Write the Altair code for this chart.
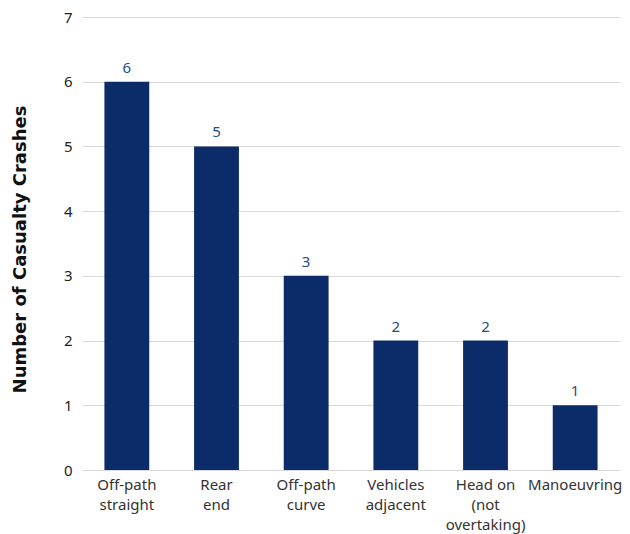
import altair as alt
import pandas as pd

categories = ["Off-path\nstraight", "Rear\nend", "Off-path\ncurve", "Vehicles\nadjacent", "Head on\n(not\novertaking)", "Manoeuvring"]
values = [6, 5, 3, 2, 2, 1]

df = pd.DataFrame({"cat": categories, "val": values})

FONT = "Noto Sans"

base = alt.Chart(df).encode(
    x=alt.X("cat:N", sort=categories, title=None,
            scale=alt.Scale(paddingInner=0.5, paddingOuter=0.25),
            axis=alt.Axis(labelAngle=0, labelExpr="split(datum.label, '\\n')",
                          labelFontSize=15, labelColor="#333333", labelFont=FONT,
                          labelPadding=7, labelLineHeight=20, ticks=False, domain=False,
                          labelLimit=200)),
    y=alt.Y("val:Q", title="Number of Casualty Crashes",
            scale=alt.Scale(domain=[0, 7]),
            axis=alt.Axis(values=[0, 1, 2, 3, 4, 5, 6, 7], labelFontSize=15, labelColor="#222222",
                          labelFont=FONT, labelPadding=10, ticks=False, domain=False,
                          gridColor="#d9d9d9", gridWidth=1,
                          titleFontSize=18, titleFont="DejaVu Sans", titleFontWeight="bold",
                          titleColor="#111111", titlePadding=34, titleY=232)),
)

bars = base.mark_bar(color="#0c2b69")
text = base.mark_text(dy=-14, fontSize=15, color="#2b4a8a", font=FONT).encode(text="val:Q")

chart = (bars + text).properties(
    width=538, height=453,
    autosize=alt.AutoSizeParams(type="none"),
    padding={"left": 74, "top": 9, "right": 2, "bottom": 64},
).configure_view(stroke=None)

chart.save("out.html", embed_options={"renderer": "svg", "actions": False})
